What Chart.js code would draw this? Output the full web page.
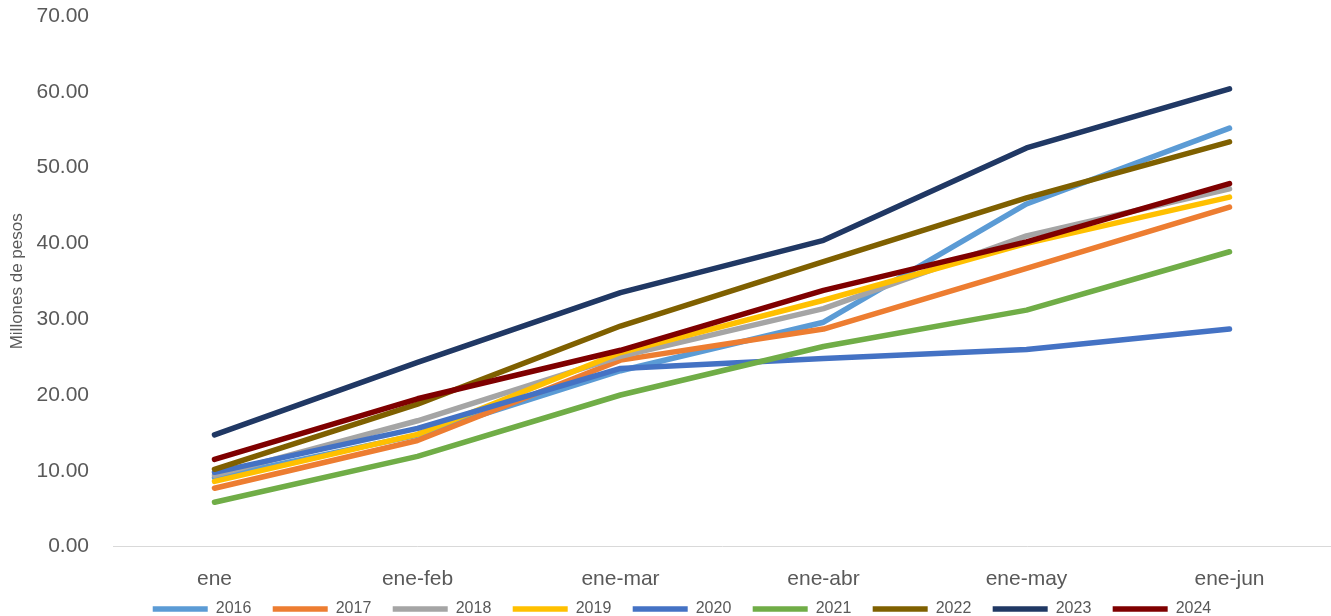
<!DOCTYPE html>
<html>
<head>
<meta charset="utf-8">
<script src="https://cdn.jsdelivr.net/npm/chart.js@4.4.1/dist/chart.umd.min.js"></script>
<style>
  html, body { margin: 0; padding: 0; background: #ffffff; }
  #wrap { width: 1331px; height: 616px; position: relative; }
</style>
</head>
<body>
<div id="wrap"><canvas id="c" width="1331" height="616"></canvas></div>
<script>
const categories = ['ene', 'ene-feb', 'ene-mar', 'ene-abr', 'ene-may', 'ene-jun'];
const seriesNames = ['2016', '2017', '2018', '2019', '2020', '2021', '2022', '2023', '2024'];
const v2016 = [9.1, 14.7, 23.2, 29.6, 45.2, 55.2];
const v2017 = [7.7, 14.0, 24.6, 28.7, 36.7, 44.8];
const v2018 = [9.4, 16.6, 25.1, 31.4, 41.0, 47.2];
const v2019 = [8.6, 14.8, 25.6, 32.5, 40.0, 46.1];
const v2020 = [9.8, 15.6, 23.5, 24.8, 26.0, 28.7];
const v2021 = [5.85, 11.9, 20.0, 26.4, 31.2, 38.9];
const v2022 = [10.2, 18.8, 29.1, 37.6, 46.0, 53.4];
const v2023 = [14.75, 24.3, 33.5, 40.4, 52.6, 60.4];
const v2024 = [11.5, 19.5, 25.9, 33.8, 40.2, 47.9];
const seriesValues = [v2016, v2017, v2018, v2019, v2020, v2021, v2022, v2023, v2024];
const seriesColors = ['#5B9BD5', '#ED7D31', '#A5A5A5', '#FFC000', '#4472C4', '#70AD47', '#7F6000', '#203864', '#7F0000'];
const yTicks = [0, 10, 20, 30, 40, 50, 60, 70];

const FONT = "'Liberation Sans', 'DejaVu Sans', sans-serif";
const n = seriesNames.length;

const datasets = seriesNames.map((name, i) => ({
  label: name,
  data: seriesValues[i],
  borderColor: seriesColors[i],
  backgroundColor: seriesColors[i],
  borderWidth: 5.5,
  borderCapStyle: 'round',
  borderJoinStyle: 'round',
  pointRadius: 0,
  pointHoverRadius: 0,
  tension: 0,
  fill: false,
  order: n - 1 - i
}));

new Chart(document.getElementById('c'), {
  type: 'line',
  data: { labels: categories, datasets },
  options: {
    responsive: false,
    animation: false,
    events: [],
    layout: { padding: { top: 16, right: -7, bottom: -11, left: 26 } },
    plugins: {
      tooltip: { enabled: false },
      legend: {
        position: 'bottom',
        align: 'center',
        labels: {
          usePointStyle: true,
          pointStyle: 'line',
          pointStyleWidth: 55,
          padding: 21.4,
          color: '#595959',
          font: { family: FONT, size: 16 },
          sort: (a, b) => a.datasetIndex - b.datasetIndex
        }
      }
    },
    scales: {
      x: {
        type: 'category',
        offset: true,
        grid: { display: false, drawTicks: false },
        border: { display: true, color: '#D9D9D9', width: 1 },
        ticks: { color: '#595959', padding: 20, font: { family: FONT, size: 21 }, maxRotation: 0 },
        afterFit: (s) => { s.height = 33; s._computeLabelArea = () => undefined; }
      },
      y: {
        min: 0,
        max: 70,
        grid: { display: false, drawTicks: false },
        border: { display: false },
        afterBuildTicks: (s) => { s.ticks = yTicks.map(v => ({ value: v })); },
        ticks: {
          color: '#595959',
          padding: 24,
          font: { family: FONT, size: 21 },
          callback: (v) => Number(v).toFixed(2)
        },
        title: {
          display: true,
          text: 'Millones de pesos',
          color: '#595959',
          font: { family: FONT, size: 17 },
          padding: { top: -19, bottom: 0 }
        },
        afterFit: (s) => { s.width = 87; s.paddingTop = 0; s.paddingBottom = 0; }
      }
    }
  }
});
</script>
</body>
</html>
